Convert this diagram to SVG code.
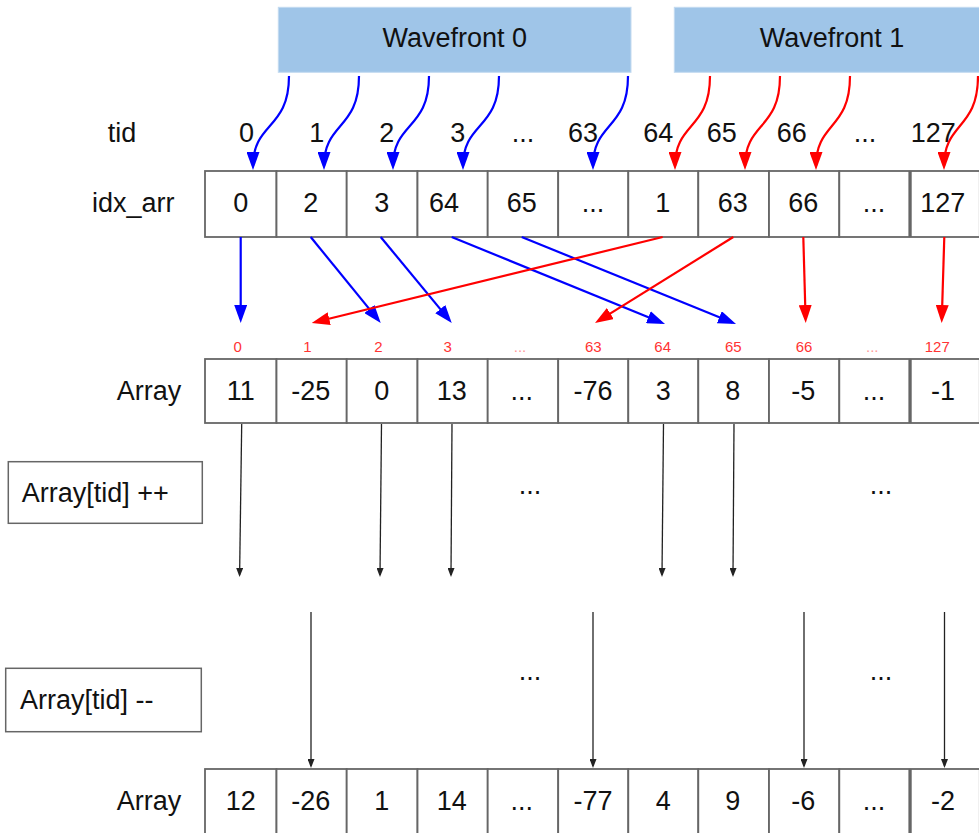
<svg xmlns="http://www.w3.org/2000/svg" width="979" height="833" viewBox="0 0 979 833">
<style>
.cell{fill:#fff;stroke:#666;stroke-width:1.8}
.box{fill:#fff;stroke:#666;stroke-width:1.5}
.wf{fill:#9fc5e8;stroke:#c3daf0;stroke-width:1}
.t{font-family:"Liberation Sans",Arial,sans-serif;font-size:27px;fill:#111;text-anchor:middle}
.s{text-anchor:start}
.r{font-family:"Liberation Sans",Arial,sans-serif;font-size:15px;fill:#ff3333;text-anchor:middle}
.rd{fill:#ff9a9a}
.bl{stroke:#0000ff;stroke-width:2.2;fill:none}
.rl{stroke:#ff0000;stroke-width:2.2;fill:none}
.k{stroke:#222;stroke-width:1.3;fill:none}
</style>
<defs>
<marker id="mb" markerUnits="userSpaceOnUse" markerWidth="18" markerHeight="13" refX="14" refY="6.5" orient="auto"><path d="M0,0 L18,6.5 L0,13 z" fill="#0000ff"/></marker>
<marker id="mr" markerUnits="userSpaceOnUse" markerWidth="18" markerHeight="13" refX="14" refY="6.5" orient="auto"><path d="M0,0 L18,6.5 L0,13 z" fill="#ff0000"/></marker>
<marker id="mk" markerUnits="userSpaceOnUse" markerWidth="9" markerHeight="7" refX="7" refY="3.5" orient="auto"><path d="M0,0 L9,3.5 L0,7 z" fill="#222"/></marker>
</defs>

<g id="wavefront0"><rect class="wf" x="278.3" y="7.3" width="352.7" height="65"/><text class="t" x="454.7" y="47">Wavefront 0</text></g>
<g id="wavefront1"><rect class="wf" x="674.3" y="7.3" width="320" height="65"/><text class="t" x="832" y="47">Wavefront 1</text></g>

<g id="tid-labels">
<text class="t" x="122" y="142">tid</text>
<text class="t" x="246.5" y="142">0</text>
<text class="t" x="316.7" y="142">1</text>
<text class="t" x="386.7" y="142">2</text>
<text class="t" x="457.7" y="142">3</text>
<text class="t" x="523" y="142">...</text>
<text class="t" x="583" y="142">63</text>
<text class="t" x="658.3" y="142">64</text>
<text class="t" x="721.7" y="142">65</text>
<text class="t" x="791.7" y="142">66</text>
<text class="t" x="865" y="142">...</text>
<text class="t" x="933.3" y="142">127</text>
</g>

<g id="idx_arr">
<text class="t s" x="92" y="212">idx_arr</text>
<rect class="cell" x="205" y="171" width="71.5" height="66"/>
<rect class="cell" x="276.5" y="171" width="70.2" height="66"/>
<rect class="cell" x="346.7" y="171" width="70.8" height="66"/>
<rect class="cell" x="417.5" y="171" width="70.2" height="66"/>
<rect class="cell" x="487.7" y="171" width="70.5" height="66"/>
<rect class="cell" x="558.2" y="171" width="70.1" height="66"/>
<rect class="cell" x="628.3" y="171" width="70" height="66"/>
<rect class="cell" x="698.3" y="171" width="70.7" height="66"/>
<rect class="cell" x="769" y="171" width="70.3" height="66"/>
<rect class="cell" x="839.3" y="171" width="70" height="66"/>
<rect class="cell" x="910.8" y="171" width="69" height="66"/>
<text class="t" x="240.7" y="212">0</text>
<text class="t" x="310.7" y="212">2</text>
<text class="t" x="381.7" y="212">3</text>
<text class="t" x="444" y="212">64</text>
<text class="t" x="521.7" y="212">65</text>
<text class="t" x="593" y="212">...</text>
<text class="t" x="662.7" y="212">1</text>
<text class="t" x="732.7" y="212">63</text>
<text class="t" x="803.3" y="212">66</text>
<text class="t" x="874" y="212">...</text>
<text class="t" x="942.7" y="212">127</text>
</g>

<g id="index-labels">
<text class="r" x="237.7" y="352">0</text>
<text class="r" x="307.3" y="352">1</text>
<text class="r" x="378.3" y="352">2</text>
<text class="r" x="447.7" y="352">3</text>
<text class="r rd" x="520" y="352">...</text>
<text class="r" x="593.3" y="352">63</text>
<text class="r" x="662.7" y="352">64</text>
<text class="r" x="733.3" y="352">65</text>
<text class="r" x="804" y="352">66</text>
<text class="r rd" x="872.3" y="352">...</text>
<text class="r" x="937.3" y="352">127</text>
</g>

<g id="array-before">
<text class="t s" x="116.7" y="400">Array</text>
<rect class="cell" x="205" y="359" width="71.5" height="64"/>
<rect class="cell" x="276.5" y="359" width="70.2" height="64"/>
<rect class="cell" x="346.7" y="359" width="70.8" height="64"/>
<rect class="cell" x="417.5" y="359" width="70.2" height="64"/>
<rect class="cell" x="487.7" y="359" width="70.5" height="64"/>
<rect class="cell" x="558.2" y="359" width="70.1" height="64"/>
<rect class="cell" x="628.3" y="359" width="70" height="64"/>
<rect class="cell" x="698.3" y="359" width="70.7" height="64"/>
<rect class="cell" x="769" y="359" width="70.3" height="64"/>
<rect class="cell" x="839.3" y="359" width="70" height="64"/>
<rect class="cell" x="910.8" y="359" width="69" height="64"/>
<text class="t" x="240.7" y="400">11</text>
<text class="t" x="310.7" y="400">-25</text>
<text class="t" x="381.7" y="400">0</text>
<text class="t" x="451.7" y="400">13</text>
<text class="t" x="521.7" y="400">...</text>
<text class="t" x="593" y="400">-76</text>
<text class="t" x="663.3" y="400">3</text>
<text class="t" x="732.7" y="400">8</text>
<text class="t" x="803.3" y="400">-5</text>
<text class="t" x="874" y="400">...</text>
<text class="t" x="943" y="400">-1</text>
</g>

<g id="op-inc"><rect class="box" x="8.3" y="461.7" width="194" height="61.6"/><text class="t s" x="21.7" y="501.5">Array[tid] ++</text></g>
<g id="op-dec"><rect class="box" x="5.7" y="668.3" width="195.6" height="63.4"/><text class="t s" x="20" y="709">Array[tid] --</text></g>

<g id="gaps">
<text class="t" x="530" y="494">...</text>
<text class="t" x="881" y="494">...</text>
<text class="t" x="530" y="680">...</text>
<text class="t" x="881" y="680">...</text>
</g>

<g id="array-after">
<text class="t s" x="116.7" y="810">Array</text>
<rect class="cell" x="205" y="769" width="71.5" height="66"/>
<rect class="cell" x="276.5" y="769" width="70.2" height="66"/>
<rect class="cell" x="346.7" y="769" width="70.8" height="66"/>
<rect class="cell" x="417.5" y="769" width="70.2" height="66"/>
<rect class="cell" x="487.7" y="769" width="70.5" height="66"/>
<rect class="cell" x="558.2" y="769" width="70.1" height="66"/>
<rect class="cell" x="628.3" y="769" width="70" height="66"/>
<rect class="cell" x="698.3" y="769" width="70.7" height="66"/>
<rect class="cell" x="769" y="769" width="70.3" height="66"/>
<rect class="cell" x="839.3" y="769" width="70" height="66"/>
<rect class="cell" x="910.8" y="769" width="69" height="66"/>
<text class="t" x="240.7" y="810">12</text>
<text class="t" x="310.7" y="810">-26</text>
<text class="t" x="381.7" y="810">1</text>
<text class="t" x="451.7" y="810">14</text>
<text class="t" x="521.7" y="810">...</text>
<text class="t" x="593" y="810">-77</text>
<text class="t" x="663.3" y="810">4</text>
<text class="t" x="732.7" y="810">9</text>
<text class="t" x="803.3" y="810">-6</text>
<text class="t" x="874" y="810">...</text>
<text class="t" x="943" y="810">-2</text>
</g>

<g id="connectors">
<path class="bl" marker-end="url(#mb)" d="M289,76 C289,130 253,122 253,166"/>
<path class="bl" marker-end="url(#mb)" d="M359,76 C359,130 324,122 324,166"/>
<path class="bl" marker-end="url(#mb)" d="M429,76 C429,130 393,122 393,166"/>
<path class="bl" marker-end="url(#mb)" d="M499,76 C499,130 463,122 463,166"/>
<path class="bl" marker-end="url(#mb)" d="M628,76 C628,130 593,122 593,166"/>
<path class="rl" marker-end="url(#mr)" d="M710,76 C710,130 675,122 675,166"/>
<path class="rl" marker-end="url(#mr)" d="M780,76 C780,130 745,122 745,166"/>
<path class="rl" marker-end="url(#mr)" d="M850,76 C850,130 816,122 816,166"/>
<path class="rl" marker-end="url(#mr)" d="M978,76 C978,130 944,122 944,166"/>

<path class="bl" marker-end="url(#mb)" d="M240.7,237 L240.7,319"/>
<path class="bl" marker-end="url(#mb)" d="M310.7,237 L378.2,319.9"/>
<path class="bl" marker-end="url(#mb)" d="M380.7,237 L449.2,319.9"/>
<path class="bl" marker-end="url(#mb)" d="M451.7,237 L661.3,322.5"/>
<path class="bl" marker-end="url(#mb)" d="M521.7,237 L732.3,322.5"/>
<path class="rl" marker-end="url(#mr)" d="M662.7,237 L315.6,322"/>
<path class="rl" marker-end="url(#mr)" d="M733.3,237 L598.4,320.9"/>
<path class="rl" marker-end="url(#mr)" d="M803.3,237 L805.6,319"/>
<path class="rl" marker-end="url(#mr)" d="M944.3,237 L941.8,319"/>

<path class="k" marker-end="url(#mk)" d="M241.7,424 L239.6,575"/>
<path class="k" marker-end="url(#mk)" d="M381.5,424 L380,575"/>
<path class="k" marker-end="url(#mk)" d="M452,424 L451,575"/>
<path class="k" marker-end="url(#mk)" d="M663.5,424 L662,575"/>
<path class="k" marker-end="url(#mk)" d="M734,424 L733,575"/>

<path class="k" marker-end="url(#mk)" d="M311,612 L311,766"/>
<path class="k" marker-end="url(#mk)" d="M593,612 L593,766"/>
<path class="k" marker-end="url(#mk)" d="M804,612 L804,766"/>
<path class="k" marker-end="url(#mk)" d="M944.5,612 L944.5,766"/>
</g>
</svg>
